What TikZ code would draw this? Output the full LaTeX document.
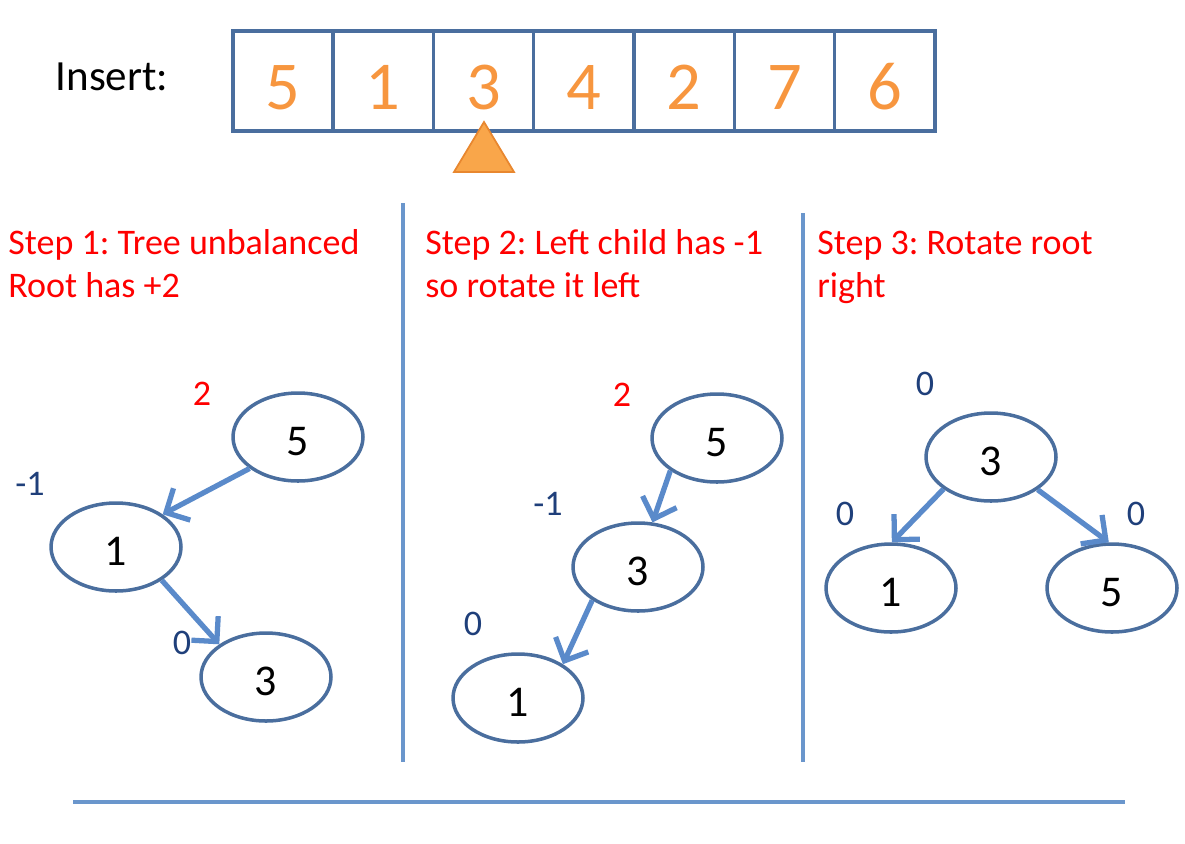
\documentclass[tikz,border=0pt]{standalone}
\usepackage{fontspec}
\setmainfont{Carlito}
\usetikzlibrary{arrows.meta,shapes.geometric}
\definecolor{boxblue}{HTML}{4A6E9E}
\definecolor{linkblue}{HTML}{5A8ACA}
\definecolor{rulerblue}{HTML}{6A96CC}
\definecolor{digitorange}{HTML}{F7963F}
\definecolor{balblue}{HTML}{1F3F7A}
\definecolor{ptrfill}{HTML}{F9A64A}
\definecolor{ptrline}{HTML}{E8872F}
\frenchspacing
\begin{document}
\begin{tikzpicture}[x=0.02cm,y=-0.02cm,
    cell/.style={draw=boxblue,line width=1.9pt,minimum width=2.006cm,minimum height=2cm,
        inner sep=0pt,text=digitorange,font=\fontsize{39}{46}\selectfont,
        text height=1.12cm,text depth=0pt},
    key/.style={draw=boxblue,line width=2pt,ellipse,minimum width=2.6cm,minimum height=1.76cm,
        inner sep=0pt,font=\fontsize{25}{30}\selectfont,text height=0.75cm,text depth=0pt},
    bal/.style={text=balblue,font=\fontsize{20.5}{24}\selectfont,inner sep=0pt},
    hot/.style={bal,text=red},
    steptext/.style={text=red,font=\fontsize{20.5pt}{0.86cm}\selectfont,align=left,
        inner sep=0pt,anchor=base west},
    link/.style={-{Straight Barb[length=0.36cm,width=0.72cm]},draw=linkblue,line width=3pt}]
    \useasboundingbox (0,0) rectangle (1185,843);
    % insertion order
    \node[font=\fontsize{24.5}{29}\selectfont] (insert) at (112,77) {Insert:};
    \foreach \v [count=\i] in {5,1,3,4,2,7,6}
        \node[cell] (c\i) at ({283+100.3*(\i-1)},81) {\v};
    \draw[fill=ptrfill,draw=ptrline,line width=1pt] (484,122) -- (514,172) -- (454,172) -- cycle;
    % separators
    \draw[rulerblue,line width=2pt] (403,203) -- (403,762) (803,213) -- (803,762)
        (73,802) -- (1125,802);
    % step 1
    \node[steptext] (s1) at (8,297) {Step 1: Tree unbalanced\\Root has +2};
    \node[key] (t1five) at (298,437) {5};
    \node[key] (t1one) at (116,547) {1};
    \node[key] (t1three) at (266,677) {3};
    \node[hot] (t1b5) at (202,394) {2};
    \node[bal] (t1b1) at (30,484) {-1};
    \node[bal] (t1b3) at (182,643) {0};
    \draw[link] (t1five.213) -- (t1one.35);
    \draw[link] (t1one.324) -- (t1three.145);
    % step 2
    \node[steptext] (s2) at (425,297) {Step 2: Left child has -1\\so rotate it left};
    \node[key] (t2five) at (717,438) {5};
    \node[key] (t2three) at (638,567) {3};
    \node[key] (t2one) at (518,698) {1};
    \node[hot] (t2b5) at (622,395) {2};
    \node[bal] (t2b3) at (548,504) {-1};
    \node[bal] (t2b1) at (473,624) {0};
    \draw[link] (t2five.215) -- (t2three.72);
    \draw[link] (t2three.216) -- (t2one.37);
    % step 3
    \node[steptext] (s3) at (817,297) {Step 3: Rotate root\\right};
    \node[key] (t3three) at (991,457) {3};
    \node[key] (t3one) at (891,588) {1};
    \node[key] (t3five) at (1112,588) {5};
    \node[bal] (t3b3) at (925,384) {0};
    \node[bal] (t3b1) at (845,514) {0};
    \node[bal] (t3b5) at (1136,514) {0};
    \draw[link] (t3three.214) -- (t3one.89);
    \draw[link] (t3three.325) -- (t3five.94);
\end{tikzpicture}
\end{document}
